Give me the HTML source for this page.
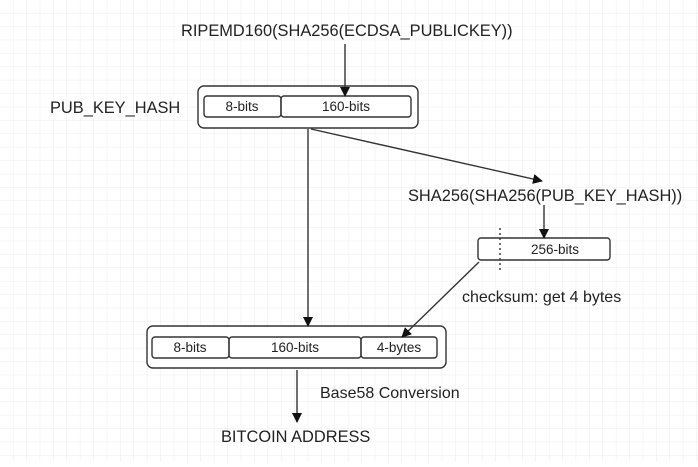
<!DOCTYPE html>
<html><head><meta charset="utf-8"><style>
html,body{margin:0;padding:0;background:#fff;}
body{width:698px;height:462px;overflow:hidden;}
</style></head><body>
<svg width="698" height="462" xmlns="http://www.w3.org/2000/svg" font-family="Liberation Sans, Arial, sans-serif">
<defs>
<pattern id="g" width="13.4" height="13.4" patternUnits="userSpaceOnUse" x="0" y="0">
<path d="M13.4 0V13.4H0" fill="none" stroke="#ececec" stroke-width="1"/>
</pattern>
<marker id="a" markerWidth="10" markerHeight="10" refX="9" refY="5" orient="auto" markerUnits="userSpaceOnUse">
<path d="M0,0 L10,5 L0,10 z" fill="#111"/>
</marker>
</defs>
<rect width="698" height="462" fill="url(#g)"/>
<g fill="#222" font-size="16.4">
<text x="181" y="36">RIPEMD160(SHA256(ECDSA_PUBLICKEY))</text>
<text x="50" y="113">PUB_KEY_HASH</text>
<text x="408" y="201">SHA256(SHA256(PUB_KEY_HASH))</text>
<text x="462" y="302" font-size="16">checksum: get 4 bytes</text>
<text x="320" y="398" font-size="16">Base58 Conversion</text>
<text x="221" y="442">BITCOIN ADDRESS</text>
</g>
<g stroke="#333" stroke-width="1.4" fill="none">
<rect x="198" y="86" width="220" height="42" rx="6" fill="#fff"/>
<rect x="204" y="96" width="77" height="21" rx="3"/>
<rect x="281" y="96" width="130" height="21" rx="3"/>
<rect x="478" y="238" width="132" height="22" rx="3" fill="#fff"/>
<rect x="147" y="326" width="299" height="42" rx="6" fill="#fff"/>
<rect x="152" y="337" width="77" height="21" rx="3"/>
<rect x="229" y="337" width="132" height="21" rx="3"/>
<rect x="361" y="337" width="76" height="21" rx="3"/>
<line x1="345" y1="44" x2="345" y2="96" marker-end="url(#a)"/>
<line x1="308" y1="129" x2="308" y2="326" marker-end="url(#a)"/>
<line x1="311" y1="129" x2="542" y2="181" marker-end="url(#a)"/>
<line x1="544" y1="205" x2="544" y2="238" marker-end="url(#a)"/>
<line x1="500" y1="228" x2="500" y2="272" stroke-dasharray="2,3"/>
<line x1="479" y1="262" x2="402" y2="337" marker-end="url(#a)"/>
<line x1="297" y1="370" x2="297" y2="422" marker-end="url(#a)"/>
</g>
<g fill="#222" font-size="13.5" text-anchor="middle">
<text x="242" y="111">8-bits</text>
<text x="346" y="111">160-bits</text>
<text x="555" y="254">256-bits</text>
<text x="190" y="352">8-bits</text>
<text x="295" y="352">160-bits</text>
<text x="399" y="352">4-bytes</text>
</g>
</svg>
</body></html>
